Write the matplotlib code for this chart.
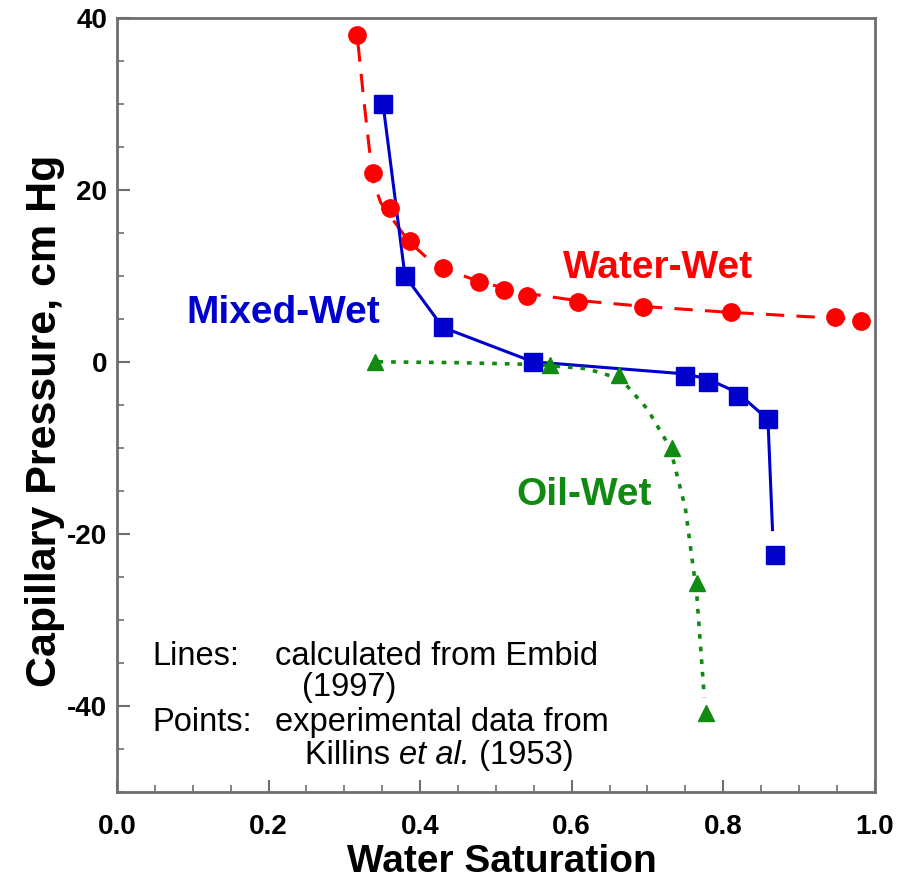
import matplotlib
matplotlib.use("Agg")
import matplotlib.pyplot as plt
from matplotlib.ticker import MultipleLocator

plt.rcParams['font.family'] = ['Liberation Sans', 'DejaVu Sans']

RED = '#ff0000'
BLUE = '#0000cc'
GREEN = '#118a11'

# Experimental points (Killins et al., 1953)
ww_sw = [0.317, 0.338, 0.360, 0.387, 0.430, 0.478, 0.511, 0.541, 0.608, 0.694, 0.810, 0.947, 0.982]
ww_pc = [38.0, 22.0, 17.9, 14.0, 10.9, 9.3, 8.4, 7.6, 7.0, 6.4, 5.8, 5.2, 4.8]

mw_sw = [0.351, 0.380, 0.430, 0.549, 0.749, 0.780, 0.819, 0.859, 0.868]
mw_pc = [30.0, 10.0, 4.0, 0.0, -1.6, -2.3, -4.0, -6.7, -22.4]

ow_sw = [0.340, 0.571, 0.662, 0.732, 0.765, 0.777]
ow_pc = [0.0, -0.4, -1.5, -10.0, -25.7, -40.8]

# Calculated curves (Embid, 1997)
ww_line_sw = [0.318, 0.325, 0.332, 0.338, 0.348, 0.360, 0.385, 0.410, 0.440, 0.480, 0.530, 0.600, 0.700, 0.800, 0.900, 0.982]
ww_line_pc = [37.0, 31.0, 25.5, 21.0, 18.5, 17.0, 14.0, 12.0, 10.5, 9.3, 8.1, 7.2, 6.4, 5.8, 5.3, 4.9]

mw_line_sw = [0.351, 0.380, 0.430, 0.549, 0.749, 0.780, 0.819, 0.859, 0.865]
mw_line_pc = [30.0, 10.0, 4.0, 0.0, -1.4, -2.0, -3.6, -6.7, -19.5]

ow_line_sw = [0.345, 0.450, 0.550, 0.620, 0.665, 0.700, 0.730, 0.750, 0.765, 0.775]
ow_line_pc = [0.0, -0.1, -0.3, -0.8, -2.0, -5.5, -10.0, -17.0, -27.0, -39.0]

x_ticks = [0.0, 0.2, 0.4, 0.6, 0.8, 1.0]
x_ticklabels = ['0.0', '0.2', '0.4', '0.6', '0.8', '1.0']
y_ticks = [-40, -20, 0, 20, 40]
y_ticklabels = ['-40', '-20', '0', '20', '40']

fig = plt.figure(figsize=(9.0, 8.82), dpi=100)
ax = fig.add_axes([0.130, 0.102, 0.842, 0.878])

ax.plot(ww_line_sw, ww_line_pc, color=RED, lw=2.2, dashes=(6, 4))
ax.plot(mw_line_sw, mw_line_pc, color=BLUE, lw=2.2, ls='-')
ax.plot(ow_line_sw, ow_line_pc, color=GREEN, lw=2.6, dashes=(1.3, 2.2))

ax.plot(ww_sw, ww_pc, 'o', color=RED, ms=12.5, mec=RED)
ax.plot(mw_sw, mw_pc, 's', color=BLUE, ms=13, mec=BLUE)
ax.plot(ow_sw, ow_pc, '^', color=GREEN, ms=11, mec=GREEN)

ax.set_xlim(0.0, 1.0)
ax.set_ylim(-50, 40)
ax.xaxis.set_minor_locator(MultipleLocator(0.05))
ax.yaxis.set_minor_locator(MultipleLocator(5))
ax.set_xticks(x_ticks)
ax.set_xticklabels(x_ticklabels)
ax.set_yticks(y_ticks)
ax.set_yticklabels(y_ticklabels)

for s in ax.spines.values():
    s.set_color('#6e6e6e')
    s.set_linewidth(2.0)
ax.tick_params(which='both', direction='in', color='#6e6e6e', top=False, right=False)
ax.tick_params(which='major', length=9, width=1.5, labelsize=20)
ax.tick_params(axis='x', which='major', pad=16)
ax.tick_params(axis='y', which='major', pad=7)
ax.tick_params(which='minor', length=5, width=1.2)
for lab in ax.get_xticklabels() + ax.get_yticklabels():
    lab.set_fontweight('bold')

ax.set_xlabel('Water Saturation', fontsize=28, fontweight='bold')
ax.xaxis.label.set_va('bottom')
ax.xaxis.set_label_coords(0.508, -0.114)
ax.set_ylabel('Capillary Pressure, cm Hg', fontsize=31, fontweight='bold')
ax.yaxis.set_label_coords(-0.069, 0.48)

ax.text(0.714, 10.9, 'Water-Wet', color=RED, fontsize=28, fontweight='bold', ha='center', va='center')
ax.text(0.220, 5.7, 'Mixed-Wet', color=BLUE, fontsize=28, fontweight='bold', ha='center', va='center')
ax.text(0.617, -15.5, 'Oil-Wet', color=GREEN, fontsize=28, fontweight='bold', ha='center', va='center')

note = dict(fontsize=23.5, color='black', va='center')
ax.text(0.047, -34.2, 'Lines:', ha='left', **note)
ax.text(0.208, -34.2, 'calculated from Embid', ha='left', **note)
ax.text(0.307, -37.9, '(1997)', ha='center', **note)
ax.text(0.047, -41.9, 'Points:', ha='left', **note)
ax.text(0.208, -41.9, 'experimental data from', ha='left', **note)

# Citation line: upright author, italic "et al.", upright year, chained end to end
t1 = ax.text(0.248, -45.7, 'Killins ', ha='left', **note)
t2 = ax.annotate('et al.', xy=(1, 0), xycoords=t1, ha='left', va='bottom',
                 fontsize=23.5, style='italic', color='black')
ax.annotate(' (1953)', xy=(1, 0), xycoords=t2, ha='left', va='bottom',
            fontsize=23.5, color='black')

fig.savefig('out.png', dpi=100)
